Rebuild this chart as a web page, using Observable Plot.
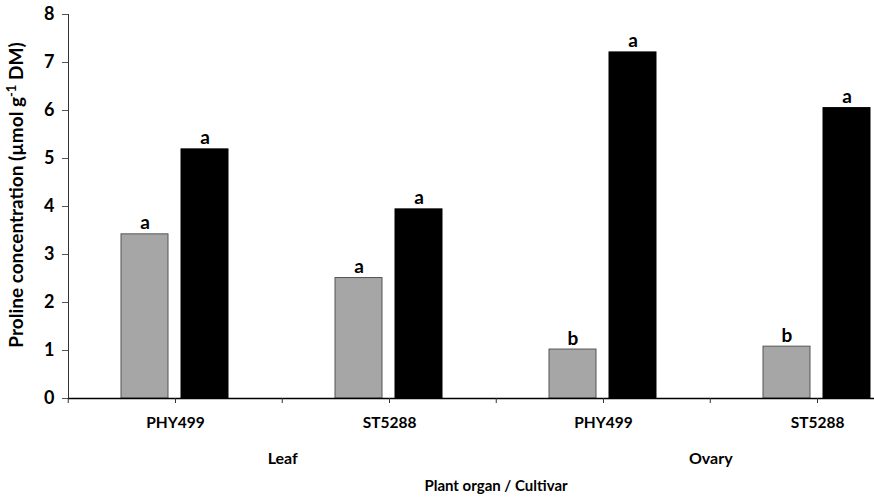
<!DOCTYPE html>
<html><head><meta charset="utf-8">
<script src="https://cdn.jsdelivr.net/npm/d3@7"></script>
<script src="https://cdn.jsdelivr.net/npm/@observablehq/plot@0.6"></script>
<style>
body{margin:0;overflow:hidden;background:#fff}
#chart{width:874px;height:499px;overflow:hidden}
#chart svg{max-width:none !important}
</style>
</head><body><div id="chart"></div>
<script>
// Data
const organs = ["Leaf", "Leaf", "Ovary", "Ovary"];
const cultivars = ["PHY499", "ST5288", "PHY499", "ST5288"];
const treatments = ["Control", "Stress"];
const controlValues = [3.42, 2.51, 1.02, 1.08];
const stressValues = [5.19, 3.94, 7.21, 6.05];
const controlLetters = ["a", "a", "b", "b"];
const stressLetters = ["a", "a", "a", "a"];
const yTicks = [0, 1, 2, 3, 4, 5, 6, 7, 8];
const yLabelMain = "Proline concentration (µmol g";
const yLabelSup = "-1";
const yLabelEnd = " DM)";
const xLabel = "Plant organ / Cultivar";

const keys = organs.map((o, i) => o + "|" + cultivars[i]);
const rows = [];
keys.forEach((k, i) => {
  rows.push({key: k, treatment: treatments[0], value: controlValues[i], letter: controlLetters[i]});
  rows.push({key: k, treatment: treatments[1], value: stressValues[i], letter: stressLetters[i]});
});

const W = 925, H = 499, ML = 67, MR = 0, MT = 14, MB = 101;
const step = (W - ML - MR) / keys.length;
const font = "Lato, 'Open Sans', sans-serif";

const plot = Plot.plot({
  width: W, height: H,
  marginLeft: ML, marginRight: MR, marginTop: MT, marginBottom: MB,
  style: {fontFamily: font, fontWeight: "bold", color: "#000", background: "#fff", maxWidth: "none"},
  fx: {domain: keys, padding: 0, axis: null},
  x: {domain: treatments, paddingInner: 0.213, paddingOuter: 0.869, axis: null},
  y: {domain: [0, 8], axis: null},
  color: {domain: treatments, range: ["#a6a6a6", "#000000"]},
  marks: [
    Plot.axisY({ticks: yTicks, tickSize: 6, tickPadding: 8, fontSize: 18, fontWeight: "bold", label: null, stroke: "#555"}),
    Plot.frame({anchor: "left", facetAnchor: "left", stroke: "#333", strokeWidth: 1}),
    Plot.barY(rows, {
      fx: "key", x: "treatment", y: "value", fill: "treatment",
      stroke: d => d.treatment === treatments[0] ? "#555" : "#000", strokeWidth: 1
    }),
    Plot.text(rows, {
      fx: "key", x: "treatment", y: "value", text: "letter",
      dy: -5, lineAnchor: "bottom", fontSize: 19, fontWeight: "bold", fill: "#000"
    }),
    Plot.ruleY([0], {stroke: "#000", strokeWidth: 1.5}),
    Plot.axisFx({anchor: "bottom", tickSize: 5, tickPadding: 13, fontSize: 15.5, fontWeight: "bold",
      tickFormat: k => k.split("|")[1], label: null, stroke: "#333"}),
    Plot.axisFx({anchor: "bottom", tickSize: 5, tickFormat: () => "", dx: -step / 2, label: null, stroke: "#333"}),
    Plot.axisFx({anchor: "bottom", ticks: [keys[0], keys[2]], tickSize: 0, tickPadding: 54, dx: step / 2,
      fontSize: 16, fontWeight: "bold", tickFormat: k => k.split("|")[0], label: null})
  ]
});
plot.style.maxWidth = "none";

const svg = d3.select(plot);
svg.append("text")
  .attr("x", (ML + W - MR) / 2).attr("y", 491)
  .attr("text-anchor", "middle")
  .attr("font-family", font).attr("font-weight", "bold").attr("font-size", 15)
  .attr("fill", "#000")
  .text(xLabel);

const yl = svg.append("text")
  .attr("transform", `translate(23,195) rotate(-90)`)
  .attr("text-anchor", "middle")
  .attr("font-family", font).attr("font-weight", "bold").attr("font-size", 19)
  .attr("fill", "#000");
yl.append("tspan").text(yLabelMain);
yl.append("tspan").attr("font-size", 13).attr("dy", -7).text(yLabelSup);
yl.append("tspan").attr("dy", 7).text(yLabelEnd);

document.getElementById("chart").appendChild(plot);
</script>
</body></html>
